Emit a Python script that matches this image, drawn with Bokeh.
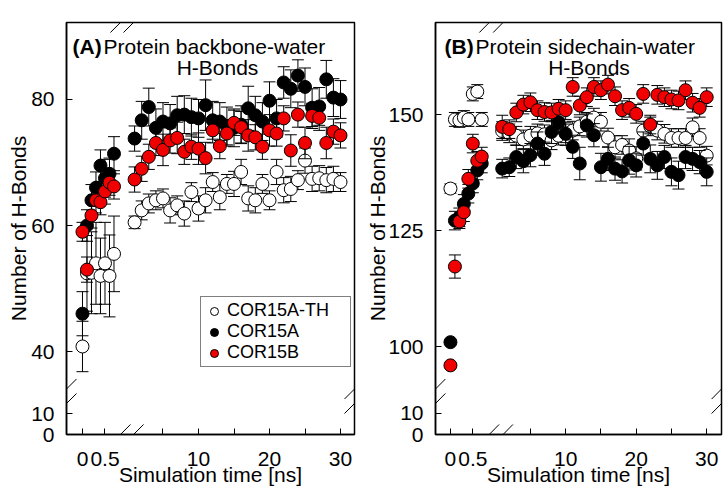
import numpy as np
from bokeh.plotting import figure
from bokeh.models import (Range1d, FixedTicker, Label, Legend, LegendItem, Arrow,
                          ColumnDataSource)
from bokeh.layouts import row
from bokeh.embed import file_html
from bokeh.resources import INLINE

# ---------------- data ----------------
SERIES = ["COR15A-TH", "COR15A", "COR15B"]
TIME_EARLY = [0.0, 0.1, 0.2, 0.3, 0.4, 0.5, 0.6, 0.7]          # ns (expanded segment)
TIME_MAIN = [1, 2, 3, 4, 5, 6, 7, 8, 9, 10, 11, 12, 13, 14, 15,
             16, 17, 18, 19, 20, 21, 22, 23, 24, 25, 26, 27, 28, 29, 30]

# Panel A: backbone-water H-bonds
A_TH_EARLY = [40.8, 52.4, 52.5, 54.0, 52.0, 54.0, 52.0, 55.5]
A_TH_EARLY_ERR = [4.0, 6.0, 6.5, 6.5, 6.0, 6.5, 6.5, 6.0]
A_15A_EARLY = [46.0, 60.0, 64.0, 66.0, 69.5, 67.5, 68.2, 71.4]
A_15A_EARLY_ERR = [3.5, 2.5, 2.5, 2.5, 2.5, 3.0, 2.5, 2.7]
A_15B_EARLY = [59.0, 53.0, 61.6, 64.0, 63.7, 65.4, 66.8, 66.2]
A_15B_EARLY_ERR = [1.5, 2.0, 2.0, 2.0, 2.0, 2.0, 2.0, 2.0]

A_TH_MAIN = [60.5, 62.4, 63.5, 64.0, 64.3, 62.4, 63.2, 61.9, 65.3, 62.7,
             64.0, 66.9, 64.5, 66.6, 66.6, 68.5, 64.3, 64.0, 66.6, 64.0,
             68.5, 65.6, 65.8, 67.2, 70.3, 67.4, 67.5, 67.2, 67.4, 66.9]
A_TH_MAIN_ERR = [1.0, 1.5, 1.5, 1.5, 1.5, 2.0, 1.5, 2.0, 1.5, 2.0,
                 2.0, 1.5, 2.0, 1.5, 2.0, 2.0, 2.0, 2.0, 1.5, 1.5,
                 2.0, 2.0, 2.0, 1.5, 2.0, 2.0, 2.0, 2.0, 2.0, 1.5]
A_15A_MAIN = [73.8, 76.7, 78.8, 75.5, 76.5, 76.2, 77.5, 77.6, 77.2, 77.0,
              79.1, 76.7, 76.5, 75.8, 75.5, 76.0, 78.6, 77.5, 76.5, 79.8,
              77.0, 82.7, 81.7, 83.8, 82.0, 78.7, 78.9, 83.2, 80.3, 80.0]
A_15A_MAIN_ERR = [2.0, 3.0, 3.0, 3.0, 3.0, 3.0, 3.0, 3.0, 3.0, 3.0,
                  4.0, 3.0, 3.0, 3.0, 3.0, 3.0, 3.5, 3.0, 3.0, 3.0,
                  3.0, 2.5, 3.0, 2.5, 3.0, 3.0, 3.0, 3.0, 3.0, 3.0]
A_15B_MAIN = [67.3, 69.0, 70.9, 73.1, 72.0, 73.5, 73.9, 71.7, 72.5, 72.2,
              70.7, 75.1, 72.6, 74.6, 76.3, 75.6, 74.3, 74.0, 72.5, 75.1,
              74.6, 77.0, 71.9, 77.6, 73.1, 77.4, 77.1, 73.1, 74.9, 74.3]
A_15B_MAIN_ERR = [2.0, 2.0, 2.0, 2.0, 2.5, 2.0, 2.5, 2.0, 2.0, 2.5,
                  2.5, 2.0, 2.0, 2.0, 2.0, 2.5, 2.5, 2.0, 2.0, 2.5,
                  2.0, 2.0, 2.5, 2.0, 2.5, 2.0, 2.0, 2.5, 2.0, 2.0]

# Panel B: sidechain-water H-bonds
B_TH_EARLY = [134.1, 149.0, 148.8, 149.4, 149.0, 154.5, 155.0, 149.0]
B_TH_EARLY_ERR = [1.0, 1.5, 1.5, 1.5, 1.5, 1.5, 1.5, 1.5]
B_15A_EARLY = [101.0, 127.2, 127.9, 130.8, 133.0, 135.2, 138.0, 139.5]
B_15A_EARLY_ERR = [0.5, 2.0, 2.0, 2.0, 2.0, 2.0, 2.0, 2.0]
B_15B_EARLY = [96.0, 117.3, 127.0, 129.0, 136.2, 143.8, 140.1, 141.0]
B_15B_EARLY_ERR = [0.5, 2.5, 1.5, 2.0, 2.0, 2.0, 2.0, 2.0]

B_TH_MAIN = [146.5, 146.0, 145.5, 144.7, 145.5, 146.0, 145.8, 144.5, 145.5, 146.0,
             146.6, 147.5, 148.5, 149.4, 148.5, 145.1, 143.0, 143.5, 142.3, 140.6,
             146.6, 147.5, 146.6, 145.9, 145.0, 145.0, 145.0, 147.3, 145.0, 141.2]
B_TH_MAIN_ERR = [2.0, 2.0, 2.0, 2.0, 2.0, 2.0, 2.0, 2.0, 2.0, 2.0,
                 2.0, 2.0, 2.0, 2.0, 2.0, 2.0, 2.5, 2.0, 2.5, 2.5,
                 2.0, 2.0, 2.0, 2.0, 2.0, 2.0, 2.0, 2.0, 2.0, 2.0]
B_15A_MAIN = [138.4, 138.7, 140.9, 140.0, 141.3, 143.8, 141.6, 146.3, 148.4, 145.9,
              143.1, 139.5, 147.7, 145.6, 138.7, 140.5, 138.4, 137.8, 140.2, 139.1,
              143.8, 140.5, 139.1, 140.9, 137.7, 137.0, 140.9, 140.5, 139.8, 137.7]
B_15A_MAIN_ERR = [2.0, 2.0, 2.5, 2.5, 2.5, 2.5, 2.5, 2.5, 2.5, 2.5,
                  2.5, 3.5, 2.5, 2.5, 3.0, 2.5, 2.5, 2.5, 3.0, 2.5,
                  2.5, 3.0, 3.0, 2.5, 3.0, 3.0, 2.5, 2.5, 2.5, 3.0]
B_15B_MAIN = [147.4, 146.9, 150.5, 152.2, 152.7, 151.0, 150.6, 150.5, 151.3, 151.0,
              156.0, 152.0, 153.8, 156.0, 155.3, 156.5, 154.0, 151.0, 151.5, 150.2,
              154.5, 147.9, 154.3, 153.8, 153.3, 153.1, 155.3, 152.6, 151.5, 153.8]
B_15B_MAIN_ERR = [2.5, 2.0, 2.0, 2.0, 2.0, 2.0, 2.0, 2.0, 2.0, 2.0,
                  2.0, 2.0, 2.0, 2.0, 2.0, 2.0, 2.0, 2.0, 2.0, 2.0,
                  2.0, 2.0, 2.0, 2.0, 2.0, 2.0, 2.0, 2.0, 2.0, 2.0]

X_TICKS_EARLY = [0.0, 0.5]
X_TICK_LABELS_EARLY = ["0", "0.5"]
X_TICKS_MAIN = [5, 10, 15, 20, 25, 30]
X_TICK_LABELS_MAIN = ["", "10", "", "20", "", "30"]

# ---------------- styling / axis-break geometry ----------------
FONT = "Liberation Sans"
FILLS = ["white", "black", "#f00000"]
X_EARLY_ZERO = -6.34    # display position of t = 0 in the expanded early segment
X_EARLY_SCALE = 6.34    # display units per ns in the early segment


def early_x(t):
    return X_EARLY_ZERO + X_EARLY_SCALE * np.asarray(t, dtype=float)


def make_panel(width, border_left, border_right, xr, yr, y_low_ticks, y_main_ticks,
               series, tag, title, title_pos, ylabel_standoff, breaks, legend_loc=None):
    p = figure(width=width, height=488, x_range=Range1d(*xr), y_range=Range1d(*yr),
               output_backend="svg", toolbar_location=None,
               min_border_left=border_left, min_border_right=border_right,
               min_border_top=22, min_border_bottom=54)
    p.xgrid.visible = False
    p.ygrid.visible = False
    p.outline_line_color = "black"
    p.outline_line_width = 1.5
    p.background_fill_color = "white"
    p.border_fill_color = "white"

    # x axis (broken): early segment + main segment
    xt = list(early_x(X_TICKS_EARLY)) + X_TICKS_MAIN
    xl = X_TICK_LABELS_EARLY + X_TICK_LABELS_MAIN
    p.xaxis.ticker = FixedTicker(ticks=xt, minor_ticks=[])
    p.xaxis.major_label_overrides = {k: v for k, v in zip(xt, xl)}
    # y axis (broken): low segment 0,10 + main segment
    (y0d, y10d) = y_low_ticks
    yt = [y0d, y10d] + y_main_ticks
    yl = ["0", "10"] + [str(v) for v in y_main_ticks]
    p.yaxis.ticker = FixedTicker(ticks=yt, minor_ticks=[])
    p.yaxis.major_label_overrides = {k: v for k, v in zip(yt, yl)}
    for ax in (p.xaxis[0], p.yaxis[0]):
        ax.axis_line_width = 1.5
        ax.axis_line_color = "black"
        ax.major_tick_in = 6
        ax.major_tick_out = 0
        ax.major_tick_line_color = "black"
        ax.minor_tick_in = 0
        ax.minor_tick_out = 0
        ax.major_label_text_font = FONT
        ax.major_label_text_font_size = "21px"
        ax.major_label_text_color = "black"
        ax.axis_label_text_font = FONT
        ax.axis_label_text_font_size = "21px"
        ax.axis_label_text_font_style = "normal"
        ax.axis_label_text_color = "black"
    p.xaxis.major_label_standoff = 17
    p.yaxis.major_label_standoff = 12
    p.xaxis.axis_label = "Simulation time [ns]"
    p.xaxis.axis_label_standoff = -6
    p.yaxis.axis_label = "Number of H-Bonds"
    p.yaxis.axis_label_standoff = ylabel_standoff

    renderers = []
    for (ev, ee, mv, me), fill in zip(series, FILLS):
        x = np.concatenate([early_x(TIME_EARLY), np.asarray(TIME_MAIN, float)])
        v = np.concatenate([np.asarray(ev, float), np.asarray(mv, float)])
        e = np.concatenate([np.asarray(ee, float), np.asarray(me, float)])
        src = ColumnDataSource(dict(x=x, y=v, lo=v - e, hi=v + e))
        p.segment(x0="x", y0="lo", x1="x", y1="hi", source=src,
                  line_color="black", line_width=1)
        p.scatter(x="x", y="lo", marker="dash", size=12, source=src,
                  line_color="black", line_width=1)
        p.scatter(x="x", y="hi", marker="dash", size=12, source=src,
                  line_color="black", line_width=1)
        r = p.scatter(x="x", y="y", marker="circle", size=13, source=src,
                      fill_color=fill, line_color="black", line_width=1)
        renderers.append(r)

    # axis break marks
    for (xs, ys, xe, ye) in breaks:
        p.add_layout(Arrow(end=None, x_start=xs, y_start=ys, x_end=xe, y_end=ye,
                           line_color="black", line_width=1))

    # panel titles inside the frame
    tx_tag, tx_title, tx_line2, ty1, ty2 = title_pos
    p.add_layout(Label(x=tx_tag, y=ty1, x_units="screen", y_units="screen", text=tag,
                       text_font=FONT, text_font_size="21px", text_font_style="bold",
                       text_color="black", text_baseline="alphabetic"))
    p.add_layout(Label(x=tx_title, y=ty1, x_units="screen", y_units="screen", text=title,
                       text_font=FONT, text_font_size="21px", text_color="black",
                       text_baseline="alphabetic"))
    p.add_layout(Label(x=tx_line2, y=ty2, x_units="screen", y_units="screen", text="H-Bonds",
                       text_font=FONT, text_font_size="21px", text_color="black",
                       text_baseline="alphabetic", text_align="center"))

    if legend_loc is not None:
        legend = Legend(items=[LegendItem(label=n, renderers=[r]) for n, r in zip(SERIES, renderers)],
                        location=legend_loc, orientation="vertical",
                        border_line_color="black", border_line_width=1.5,
                        background_fill_color="white", background_fill_alpha=1.0,
                        padding=3, spacing=0, margin=0,
                        glyph_width=20, glyph_height=20, label_standoff=3,
                        label_width=120, label_height=20,
                        label_text_font=FONT, label_text_font_size="18px",
                        label_text_color="black")
        p.add_layout(legend)
    return p


# Panel A geometry (display units: x in ns of main segment, y in H-bonds of main segment)
A_XR = (-8.59, 31.97)
A_YR = (26.83, 92.22)
A_DX, A_DY = 1.41, 1.59
A_BREAKS = []
for cx in (-0.99, 0.85):
    for cy in A_YR:
        A_BREAKS.append((cx - A_DX, cy - A_DY, cx + A_DX, cy + A_DY))
for cy in (34.05, 31.75):
    for cx in A_XR:
        A_BREAKS.append((cx - A_DX, cy - A_DY, cx + A_DX, cy + A_DY))

B_XR = (-8.46, 32.1)
B_YR = (81.10, 169.89)
B_DX, B_DY = 1.40, 2.16
B_BREAKS = []
for cx in (-0.84, 1.12):
    for cy in B_YR:
        B_BREAKS.append((cx - B_DX, cy - B_DY, cx + B_DX, cy + B_DY))
for cy in (90.90, 87.78):
    for cx in B_XR:
        B_BREAKS.append((cx - B_DX, cy - B_DY, cx + B_DX, cy + B_DY))

pA = make_panel(363, 66, 9, A_XR, A_YR, (26.83, 30.16), [40, 60, 80],
                [(A_TH_EARLY, A_TH_EARLY_ERR, A_TH_MAIN, A_TH_MAIN_ERR),
                 (A_15A_EARLY, A_15A_EARLY_ERR, A_15A_MAIN, A_15A_MAIN_ERR),
                 (A_15B_EARLY, A_15B_EARLY_ERR, A_15B_MAIN, A_15B_MAIN_ERR)],
                "(A)", "Protein backbone-water", (6, 37, 151, 388, 367),
                -2, A_BREAKS, legend_loc=(134, 67))
pB = make_panel(363, 68, 5, B_XR, B_YR, (81.10, 85.63), [100, 125, 150],
                [(B_TH_EARLY, B_TH_EARLY_ERR, B_TH_MAIN, B_TH_MAIN_ERR),
                 (B_15A_EARLY, B_15A_EARLY_ERR, B_15A_MAIN, B_15A_MAIN_ERR),
                 (B_15B_EARLY, B_15B_EARLY_ERR, B_15B_MAIN, B_15B_MAIN_ERR)],
                "(B)", "Protein sidechain-water", (9, 40, 153.5, 388, 367),
                -4, B_BREAKS)

layout = row(pA, pB, spacing=0)
open("out.html", "w").write(file_html(layout, INLINE))
